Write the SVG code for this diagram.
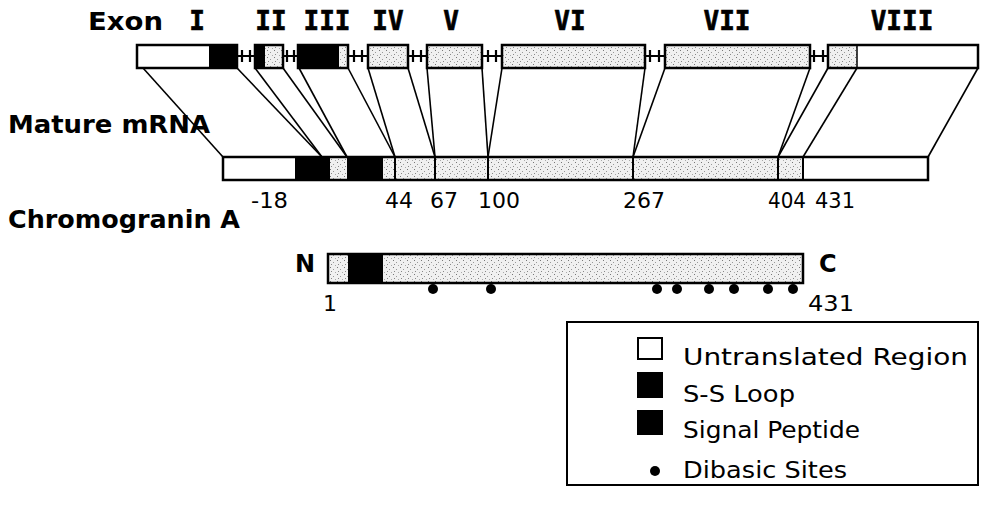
<svg xmlns="http://www.w3.org/2000/svg" width="982" height="505" viewBox="0 0 982 505">
<defs>
<pattern id="stip" width="7" height="7" patternUnits="userSpaceOnUse">
<rect width="7" height="7" fill="#f0f0f0"/>
<rect x="1" y="1" width="1" height="1" fill="#777"/>
<rect x="4" y="3" width="1" height="1" fill="#999"/>
<rect x="2" y="5" width="1" height="1" fill="#888"/>
<rect x="6" y="6" width="1" height="1" fill="#aaa"/>
</pattern>
</defs>
<style>
.box{stroke:#000;stroke-width:2.5}
.st{fill:url(#stip)}
.wh{fill:#fff}
.bk{fill:#000}
.ln{stroke:#000;stroke-width:1.6;fill:none}
.intr{stroke:#000;stroke-width:2.2;fill:none}
.hd{font-family:"DejaVu Sans","Liberation Sans",sans-serif;font-weight:bold;font-size:24px;fill:#000}
.rn{font-family:"DejaVu Sans Mono","Liberation Mono",monospace;font-weight:bold;font-size:26px;fill:#000;text-anchor:middle;stroke:#000;stroke-width:0.6}
.num{font-family:"DejaVu Sans","Liberation Sans",sans-serif;font-size:22px;fill:#000}
.lg{font-family:"DejaVu Sans","Liberation Sans",sans-serif;font-size:23px;fill:#000}
</style>
<rect width="982" height="505" fill="#fff"/>

<g id="labels">
<text class="hd" x="88" y="30" textLength="75" lengthAdjust="spacingAndGlyphs">Exon</text>
<text class="rn" x="197" y="30">I</text>
<text class="rn" x="271" y="30">II</text>
<text class="rn" x="327" y="30">III</text>
<text class="rn" x="388" y="30">IV</text>
<text class="rn" x="451" y="30">V</text>
<text class="rn" x="570" y="30">VI</text>
<text class="rn" x="727" y="30">VII</text>
<text class="rn" x="902" y="30">VIII</text>
<text class="hd" x="8" y="133" textLength="202" lengthAdjust="spacingAndGlyphs">Mature mRNA</text>
<text class="hd" x="8" y="228" textLength="232" lengthAdjust="spacingAndGlyphs">Chromogranin A</text>
</g>

<g id="connectors">
<line class="ln" x1="143" y1="68" x2="223" y2="157"/>
<line class="ln" x1="237" y1="68" x2="322" y2="157"/>
<line class="ln" x1="255" y1="68" x2="322" y2="157"/>
<line class="ln" x1="283" y1="68" x2="347" y2="157"/>
<line class="ln" x1="299" y1="68" x2="347" y2="157"/>
<line class="ln" x1="348" y1="68" x2="395" y2="157"/>
<line class="ln" x1="368" y1="68" x2="395" y2="157"/>
<line class="ln" x1="408" y1="68" x2="435" y2="157"/>
<line class="ln" x1="427" y1="68" x2="435" y2="157"/>
<line class="ln" x1="482" y1="68" x2="488" y2="157"/>
<line class="ln" x1="502" y1="68" x2="488" y2="157"/>
<line class="ln" x1="645" y1="68" x2="633" y2="157"/>
<line class="ln" x1="665" y1="68" x2="633" y2="157"/>
<line class="ln" x1="810" y1="68" x2="778" y2="157"/>
<line class="ln" x1="828" y1="68" x2="778" y2="157"/>
<line class="ln" x1="857" y1="68" x2="803" y2="157"/>
<line class="ln" x1="978" y1="68" x2="928" y2="157"/>
</g>

<g id="introns">
<path class="intr" d="M237 56H255M242 50V62M250 50V62"/>
<path class="intr" d="M283 56H298M287 50V62M294 50V62"/>
<path class="intr" d="M348 56H368M354 50V62M362 50V62"/>
<path class="intr" d="M408 56H427M413 50V62M421 50V62"/>
<path class="intr" d="M482 56H502M488 50V62M496 50V62"/>
<path class="intr" d="M645 56H665M650 50V62M659 50V62"/>
<path class="intr" d="M810 56H828M814 50V62M823 50V62"/>
</g>

<g id="exon1">
<rect class="wh" x="137" y="45" width="72" height="23"/>
<rect class="bk" x="209" y="45" width="28" height="23"/>
<rect class="box" x="137" y="45" width="100" height="23" fill="none"/>
</g>
<g id="exon2">
<rect class="bk" x="255" y="45" width="10" height="23"/>
<rect class="st" x="265" y="45" width="18" height="23"/>
<rect class="box" x="255" y="45" width="28" height="23" fill="none"/>
</g>
<g id="exon3">
<rect class="bk" x="298" y="45" width="41" height="23"/>
<rect class="st" x="339" y="45" width="9" height="23"/>
<rect class="box" x="298" y="45" width="50" height="23" fill="none"/>
</g>
<g id="exon4">
<rect class="box st" x="368" y="45" width="40" height="23"/>
</g>
<g id="exon5">
<rect class="box st" x="427" y="45" width="55" height="23"/>
</g>
<g id="exon6">
<rect class="box st" x="502" y="45" width="143" height="23"/>
</g>
<g id="exon7">
<rect class="box st" x="665" y="45" width="145" height="23"/>
</g>
<g id="exon8">
<rect class="st" x="828" y="45" width="29" height="23"/>
<rect class="wh" x="857" y="45" width="121" height="23"/>
<line x1="857" y1="45" x2="857" y2="68" stroke="#000" stroke-width="1.5"/>
<rect class="box" x="828" y="45" width="150" height="23" fill="none"/>
</g>

<g id="mrna">
<rect class="wh" x="223" y="157" width="72" height="23"/>
<rect class="bk" x="295" y="157" width="35" height="23"/>
<rect class="st" x="330" y="157" width="17" height="23"/>
<rect class="bk" x="347" y="157" width="36" height="23"/>
<rect class="st" x="383" y="157" width="420" height="23"/>
<rect class="wh" x="803" y="157" width="125" height="23"/>
<path d="M395 157V180M435 157V180M488 157V180M633 157V180M778 157V180M803 157V180" stroke="#000" stroke-width="2"/>
<rect class="box" x="223" y="157" width="705" height="23" fill="none"/>
<text class="num" x="251" y="208" textLength="37" lengthAdjust="spacingAndGlyphs">-18</text>
<text class="num" x="385" y="208">44</text>
<text class="num" x="430" y="208">67</text>
<text class="num" x="478" y="208" textLength="42" lengthAdjust="spacingAndGlyphs">100</text>
<text class="num" x="623" y="208" textLength="42" lengthAdjust="spacingAndGlyphs">267</text>
<text class="num" x="768" y="208" textLength="38" lengthAdjust="spacingAndGlyphs">404</text>
<text class="num" x="815" y="208" textLength="40" lengthAdjust="spacingAndGlyphs">431</text>
</g>

<g id="protein">
<rect class="st" x="328" y="254" width="475" height="29"/>
<rect class="bk" x="348" y="254" width="35" height="29"/>
<rect class="box" x="328" y="254" width="475" height="29" fill="none"/>
<text class="hd" x="295" y="272" font-size="25">N</text>
<text class="hd" x="819" y="272" font-size="25">C</text>
<text class="num" x="323" y="311">1</text>
<text class="num" x="808" y="311" textLength="46" lengthAdjust="spacingAndGlyphs">431</text>
<g id="dibasic" fill="#000">
<circle cx="433" cy="289" r="5"/>
<circle cx="491" cy="289" r="5"/>
<circle cx="657" cy="289" r="5"/>
<circle cx="677" cy="289" r="5"/>
<circle cx="709" cy="289" r="5"/>
<circle cx="734" cy="289" r="5"/>
<circle cx="768" cy="289" r="5"/>
<circle cx="793" cy="289" r="5"/>
</g>
</g>

<g id="legend">
<rect x="567" y="322" width="411" height="163" fill="#fff" stroke="#000" stroke-width="2"/>
<rect x="638" y="338" width="24" height="21" fill="#fff" stroke="#000" stroke-width="2"/>
<rect x="637" y="372" width="26" height="26" fill="#000"/>
<rect x="637" y="410" width="26" height="25" fill="#000"/>
<circle cx="655" cy="471" r="5" fill="#000"/>
<text class="lg" x="683" y="365" textLength="285" lengthAdjust="spacingAndGlyphs">Untranslated Region</text>
<text class="lg" x="683" y="402" textLength="112" lengthAdjust="spacingAndGlyphs">S-S Loop</text>
<text class="lg" x="683" y="438" textLength="177" lengthAdjust="spacingAndGlyphs">Signal Peptide</text>
<text class="lg" x="683" y="478" textLength="164" lengthAdjust="spacingAndGlyphs">Dibasic Sites</text>
</g>
</svg>
